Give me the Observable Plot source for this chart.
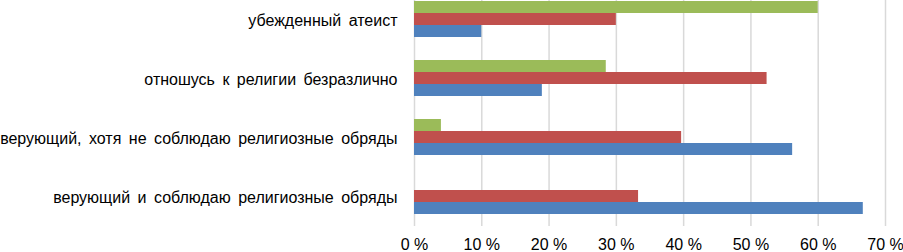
<!DOCTYPE html>
<html>
<head>
<meta charset="utf-8">
<script src="https://cdn.jsdelivr.net/npm/d3@7"></script>
<script src="https://cdn.jsdelivr.net/npm/@observablehq/plot@0.6"></script>
<style>
  html, body { margin: 0; padding: 0; background: #fff; }
  #chart svg { display: block; }
  .yax text { word-spacing: 3px; }
</style>
</head>
<body>
<div id="chart"></div>
<script>
const categories = [
  "убежденный атеист",
  "отношусь к религии безразлично",
  "верующий, хотя не соблюдаю религиозные обряды",
  "верующий и соблюдаю религиозные обряды"
];
const greenValues = [60, 28.5, 4, 0];
const redValues = [30, 52.4, 39.7, 33.3];
const blueValues = [10, 19, 56.2, 66.7];
const xTicks = [0, 10, 20, 30, 40, 50, 60, 70];

const rows = categories.map((c, i) => ({cat: c, green: greenValues[i], red: redValues[i], blue: blueValues[i]}));

const chart = Plot.plot({
  width: 903,
  height: 252,
  marginLeft: 414,
  marginRight: 18,
  marginTop: 0,
  marginBottom: 26,
  style: {fontFamily: "'Liberation Sans', Arial, sans-serif", fontSize: "16px", color: "#000", background: "#fff"},
  x: {domain: [0, 70], label: null},
  y: {domain: categories, range: [-11.2, 226], paddingInner: 0.393, paddingOuter: 0.1965, label: null},
  marks: [
    Plot.ruleX(xTicks, {stroke: "#d9d9d9", strokeWidth: 1.5, strokeOpacity: 1}),
    Plot.barX(rows, {x: "green", y: "cat", fill: "#9BBB59", insetBottom: 24}),
    Plot.barX(rows, {x: "red", y: "cat", fill: "#C0504D", insetTop: 12, insetBottom: 12}),
    Plot.barX(rows, {x: "blue", y: "cat", fill: "#4F81BD", insetTop: 24}),
    Plot.axisX(xTicks, {tickSize: 0, tickPadding: 12, tickFormat: d => d + " %", label: null, fontSize: 16}),
    Plot.axisY({tickSize: 0, tickPadding: 17, label: null, fontSize: 16, dy: 1.5, className: "yax"})
  ]
});
document.getElementById("chart").appendChild(chart);
</script>
</body>
</html>
